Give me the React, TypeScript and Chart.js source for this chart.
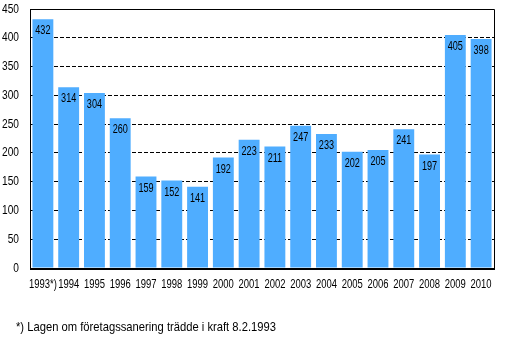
import React, { useEffect, useRef } from "react";
import { Chart, registerables } from "chart.js";

Chart.register(...registerables);

const years = ["1993*)", "1994", "1995", "1996", "1997", "1998", "1999", "2000", "2001", "2002", "2003", "2004", "2005", "2006", "2007", "2008", "2009", "2010"];
const counts = [432, 314, 304, 260, 159, 152, 141, 192, 223, 211, 247, 233, 202, 205, 241, 197, 405, 398];
const yTicks = [0, 50, 100, 150, 200, 250, 300, 350, 400, 450];
const footnote = "*) Lagen om företagssanering trädde i kraft 8.2.1993";

const FONT = "'Liberation Sans', Arial, sans-serif";
const SQUISH = 0.7;

function drawText(ctx: CanvasRenderingContext2D, text: string, x: number, y: number, align: CanvasTextAlign, size: number, sx: number) {
  ctx.save();
  ctx.translate(x, y);
  ctx.scale(sx, 1);
  ctx.font = `${size}px ${FONT}`;
  ctx.textAlign = align;
  ctx.textBaseline = "middle";
  ctx.fillStyle = "#000";
  ctx.fillText(text, 0, 0);
  ctx.restore();
}

export default function App() {
  const ref = useRef<HTMLCanvasElement | null>(null);

  useEffect(() => {
    if (!ref.current) return;
    const textPlugin = {
      id: "texts",
      afterDatasetsDraw(chart: any) {
        const ctx = chart.ctx;
        const meta = chart.getDatasetMeta(0);
        meta.data.forEach((el: any, i: number) => {
          drawText(ctx, String(counts[i]), el.x, el.y + 11.5, "center", 13, SQUISH);
        });
      },
      afterDraw(chart: any) {
        const ctx = chart.ctx;
        const a = chart.chartArea;
        const L = Math.round(a.left), T = Math.round(a.top), R = Math.round(a.right), B = Math.round(a.bottom);
        ctx.save();
        ctx.strokeStyle = "#000";
        ctx.lineWidth = 1;
        ctx.beginPath();
        ctx.moveTo(L + 0.5, B);
        ctx.lineTo(L + 0.5, T + 0.5);
        ctx.lineTo(R + 0.5, T + 0.5);
        ctx.lineTo(R + 0.5, B);
        ctx.stroke();
        ctx.lineWidth = 2;
        ctx.beginPath();
        ctx.moveTo(L, B + 1);
        ctx.lineTo(R + 1, B + 1);
        ctx.stroke();
        ctx.restore();
        const xs = chart.scales.x;
        const ys = chart.scales.y;
        years.forEach((lab, i) => {
          drawText(ctx, lab, xs.getPixelForValue(i), a.bottom + 16.5, "center", 13.5, SQUISH);
        });
        yTicks.forEach((v) => {
          drawText(ctx, String(v), a.left - 11, ys.getPixelForValue(v), "right", 13, 0.78);
        });
        ctx.save();
        ctx.font = `13px ${FONT}`;
        const w = ctx.measureText(footnote).width;
        ctx.restore();
        drawText(ctx, footnote, 16, 327, "left", 13, 260 / w);
      },
    };

    const chart = new Chart(ref.current, {
      type: "bar",
      data: {
        labels: years,
        datasets: [
          {
            data: counts,
            backgroundColor: "#4FADFF",
            borderWidth: 0,
            barPercentage: 0.81,
            categoryPercentage: 1,
          },
        ],
      },
      options: {
        animation: false,
        responsive: false,
        maintainAspectRatio: false,
        layout: { padding: { left: 0, right: 14, top: 9, bottom: 40 } },
        plugins: {
          legend: { display: false },
          tooltip: { enabled: false },
          title: { display: false },
        },
        scales: {
          x: {
            grid: { display: false, drawTicks: false },
            border: { display: false },
            ticks: { display: false },
            afterFit(scale: any) {
              scale.height = 30;
            },
          },
          y: {
            min: 0,
            max: 450,
            grid: { color: "#000", lineWidth: 1, drawTicks: false },
            border: { display: false, dash: [4, 2] },
            ticks: { display: false, stepSize: 50 },
            afterFit(scale: any) {
              scale.width = 30;
            },
          },
        },
      },
      plugins: [textPlugin],
    } as any);
    return () => chart.destroy();
  }, []);

  return (
    <div style={{ position: "fixed", left: 0, top: 0, width: 508, height: 338, background: "#fff" }}>
      <canvas ref={ref} width={508} height={338} style={{ display: "block" }} />
    </div>
  );
}
